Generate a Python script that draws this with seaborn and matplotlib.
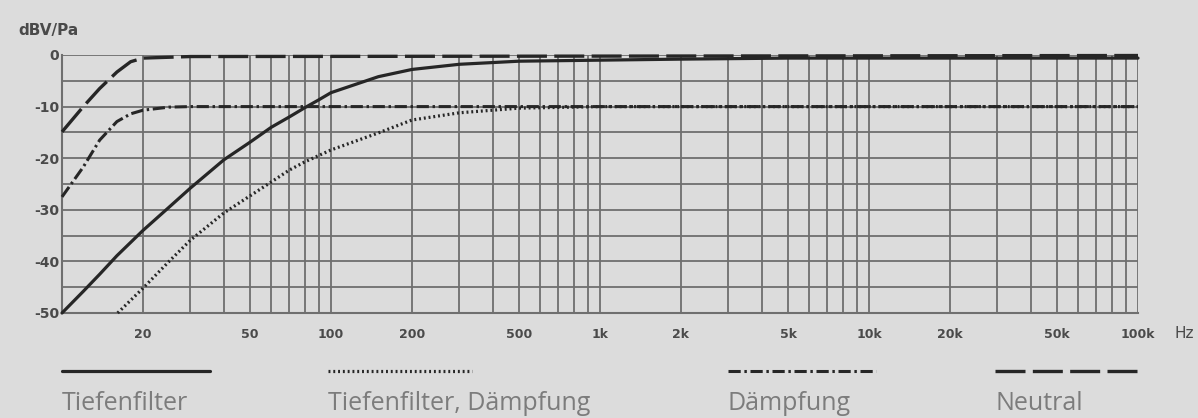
import matplotlib
matplotlib.use("Agg")
import matplotlib.pyplot as plt
import seaborn as sns
import numpy as np
import pandas as pd
from matplotlib.lines import Line2D
from matplotlib.ticker import FixedLocator, NullFormatter

# ---- data ----
tief_f = [10, 12, 13.8, 16, 20, 25, 30, 40, 50, 60, 70, 80, 90, 100, 150, 200, 300, 500, 1000, 2000, 5000, 10000, 100000]
tief_db = [-50, -45.8, -42.5, -38.9, -34, -29.5, -25.8, -20.3, -16.9, -14.0, -12.0, -10.2, -8.7, -7.3, -4.2, -2.8, -1.8, -1.2, -1.0, -0.8, -0.6, -0.6, -0.6]

tiefd_f = [16.1, 20, 25, 30, 40, 50, 60, 70, 80, 100, 150, 200, 300, 500, 1000, 100000]
tiefd_db = [-50, -45.2, -40.0, -35.9, -30.6, -27.3, -24.6, -22.3, -20.7, -18.4, -15.1, -12.6, -11.2, -10.3, -10.0, -10.0]

daem_f = [10, 12, 13.8, 16, 18, 20, 25, 30, 100000]
daem_db = [-27.5, -21.7, -16.5, -12.9, -11.4, -10.7, -10.1, -10.0, -10.0]

neut_f = [10, 12, 13.8, 16, 18, 20, 30, 100000]
neut_db = [-14.9, -10.0, -6.5, -3.3, -1.3, -0.6, -0.3, -0.1]

xtick_vals = [20, 50, 100, 200, 500, 1000, 2000, 5000, 10000, 20000, 50000, 100000]
xtick_labels = ["20", "50", "100", "200", "500", "1k", "2k", "5k", "10k", "20k", "50k", "100k"]
ytick_vals = [0, -10, -20, -30, -40, -50]
ytick_labels = ["0", "-10", "-20", "-30", "-40", "-50"]
legend_labels = ["Tiefenfilter", "Tiefenfilter, Dämpfung", "Dämpfung", "Neutral"]

# ---- style ----
bg = "#dcdcdc"
grid_c = "#6f6f6f"
line_c = "#262626"
text_c = "#4a4a4a"

sns.set_theme(style="white")
plt.rcParams["font.family"] = ["DejaVu Sans"]

fig = plt.figure(figsize=(11.98, 4.18), dpi=100, facecolor=bg)
ax = fig.add_axes([62 / 1198, 1 - 313 / 418, (1138 - 62) / 1198, (313 - 55) / 418])
ax.set_facecolor(bg)

styles = [
    dict(linestyle="-", lw=2.3),
    dict(linestyle=(0, (0.6, 0.9)), lw=2.3),
    dict(linestyle=(0, (4, 1.2, 0.8, 1.2)), lw=2.2),
    dict(linestyle=(0, (9, 2.2)), lw=2.4),
]
series = [(tief_f, tief_db), (tiefd_f, tiefd_db), (daem_f, daem_db), (neut_f, neut_db)]

for (f, d), st in zip(series, styles):
    df = pd.DataFrame({"f": f, "db": d})
    sns.lineplot(data=df, x="f", y="db", ax=ax, color=line_c, clip_on=False, zorder=5, **st)

ax.set_xscale("log")
ax.set_xlim(10, 100000)
ax.set_ylim(-50, 0)

# grid
minor_x = [m * 10 ** e for e in range(1, 5) for m in range(1, 10)] + [100000]
ax.xaxis.set_major_locator(FixedLocator(xtick_vals))
ax.set_xticklabels(xtick_labels)
ax.xaxis.set_minor_locator(FixedLocator(minor_x))
ax.xaxis.set_minor_formatter(NullFormatter())
ax.yaxis.set_major_locator(FixedLocator(ytick_vals))
ax.set_yticklabels(ytick_labels)
ax.yaxis.set_minor_locator(FixedLocator(list(range(-45, 0, 10))))
ax.grid(True, which="both", axis="both", color=grid_c, lw=1.3)
ax.set_axisbelow(True)

ax.tick_params(axis="x", which="both", direction="out", length=5, width=1.2, color=grid_c,
               labelsize=9, labelcolor=text_c, pad=6)
ax.tick_params(axis="y", which="both", length=0, labelsize=10, labelcolor=text_c, pad=2)
for lab in ax.get_xticklabels() + ax.get_yticklabels():
    lab.set_fontweight("bold")

for s in ["top", "right"]:
    ax.spines[s].set_visible(False)
for s in ["left", "bottom"]:
    ax.spines[s].set_color(grid_c)
    ax.spines[s].set_linewidth(1.5)

ax.set_xlabel("")
ax.set_ylabel("")

fig.text(18 / 1198, 1 - 30 / 418, "dBV/Pa", fontsize=11, color=text_c, fontweight="bold",
         ha="left", va="center")
fig.text(1174 / 1198, 1 - 333 / 418, "Hz", fontsize=11, color=text_c, ha="left", va="center")

# legend: sample line above label
leg_x = [(62, 210), (328, 472), (728, 876), (995, 1140)]
ly = 1 - 371 / 418
for (x0, x1), st, lab in zip(leg_x, styles, legend_labels):
    fig.add_artist(Line2D([x0 / 1198, x1 / 1198], [ly, ly], transform=fig.transFigure,
                          color=line_c, **st))
    fig.text(x0 / 1198, 1 - 416 / 418, lab, fontsize=18, color="#7c7c7c",
             family=["Open Sans", "DejaVu Sans"], ha="left", va="bottom")

fig.savefig("out.png", dpi=100, facecolor=bg)
